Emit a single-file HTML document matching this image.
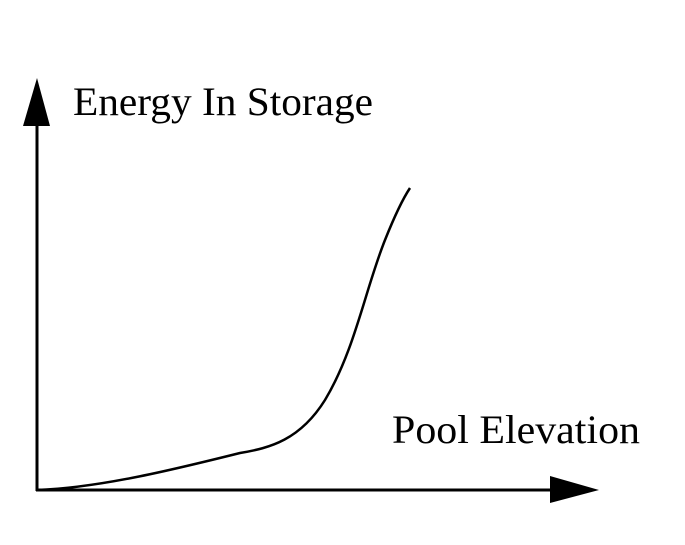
<!DOCTYPE html>
<html><head><style>body{margin:0;background:#fff}text{font-family:"Liberation Serif","Times New Roman",serif}</style></head><body>
<svg width="685" height="540" xmlns="http://www.w3.org/2000/svg">
<rect width="685" height="540" fill="#fff"/>
<line x1="37" y1="120" x2="37" y2="491" stroke="#000" stroke-width="3"/>
<polygon points="37,78 23,126 50,126" fill="#000"/>
<line x1="36" y1="490" x2="555" y2="490" stroke="#000" stroke-width="3"/>
<polygon points="599,490 550,476 550,503" fill="#000"/>
<path d="M37,490 C100,488 180,468 240,453 C270,448 300,440 325,400 C355,350 365,290 385,240 C395,215 402,200 410,188" fill="none" stroke="#000" stroke-width="2.5"/>
<text x="73" y="115" font-size="40" textLength="300" lengthAdjust="spacingAndGlyphs">Energy In Storage</text>
<text x="392" y="443" font-size="40" textLength="248" lengthAdjust="spacingAndGlyphs">Pool Elevation</text>
</svg>
</body></html>
